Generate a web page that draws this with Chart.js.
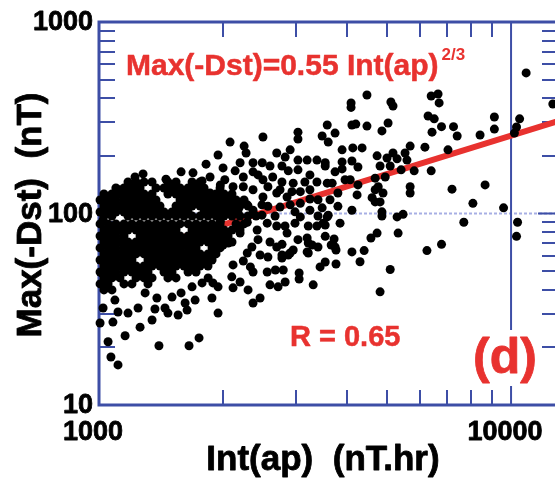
<!DOCTYPE html>
<html lang="en">

<head>
    <meta charset="UTF-8">
    <title>Max(-Dst) vs Int(ap)</title>
    <script src="https://cdn.jsdelivr.net/npm/chart.js"></script>
    <style>
        html, body { margin: 0; padding: 0; background: #fff; overflow: hidden; }
        canvas { display: block; }
    </style>
</head>

<body>
    <canvas id="storms" width="575" height="480"></canvas>

    <script>
        // scattered storms (nT.hr / nT)
        const intAp = [
            10880, 12630, 4470, 4090, 4090, 5110, 5170, 6400, 6650, 6690,
            6290, 6510, 9110, 9110, 10490, 10310, 10190, 8410, 7250, 7400,
            6780, 6430, 7030, 6400, 5820, 5690, 6180, 5690, 5690, 7190,
            8650, 8080, 9590, 7680, 10370, 10310, 6780, 6250, 5090, 4810,
            4110, 4400, 4300, 3760, 3310, 3060, 3060, 3400, 3220, 3220,
            3440, 3540, 2830, 2720, 2960, 2780, 2880, 3740, 3800, 4110,
            3600, 4680, 4810, 4860, 4860, 5290, 5470, 5320, 4730, 4570,
            3540, 3720, 3660, 3760, 4110, 4200, 5030, 4470, 4860, 3580,
            3740, 3600, 3890, 4130, 4350, 4730, 5170, 5000, 5290, 5530,
            5590, 3890, 4110, 4250, 3740, 3890, 4810, 5090, 5410, 3540,
            3680, 4070, 4250, 4680, 4950, 4760, 4680, 4890, 3800, 4230,
            4600, 2080, 2500, 1945, 2250, 2275, 2000, 2200, 2365, 2490,
            2365, 2020, 2140, 2240, 3040, 3040, 3480, 2700, 2910, 2830,
            3040, 3200, 3380, 3540, 2780, 2880, 3040, 3250, 2640, 2500,
            2570, 2780, 2960, 3380, 3580, 2365, 2500, 2700, 2860, 3080,
            3250, 3250, 1860, 1970, 2115, 2240, 1930, 2080, 2290, 2175,
            2365, 2570, 2750, 2910, 3080, 3250, 3480, 3580, 3080, 3220,
            3380, 3500, 2990, 2700, 2560, 2290, 1970, 1860, 1890, 2200,
            2420, 2860, 3200, 3540, 1945, 2365, 2460, 2300, 2115, 2100,
            2200, 2600, 2560, 2680, 2800, 2365, 2240, 2330, 1890, 1945,
            1880, 2000, 2115, 2460, 2570, 2780, 2910, 3200, 2700, 2290,
            2060, 2350, 1017, 1034, 1023, 1093, 1112, 1176, 1244, 1294,
            1382, 1367, 1446, 1470, 1556, 1618, 1636, 1711, 1504, 1582,
            1682, 1779, 1840, 1006, 1081, 1345, 1258, 1157, 1052, 1749,
            1654, 1398, 1069, 1112, 1093, 1118, 1202, 1223, 1279, 1345,
            1454, 1582, 1691, 1819, 1860, 1034, 1023, 1779,
            2432, 2600, 2750, 2940, 3160, 3400, 2486, 2675, 2828, 3040,
            3290, 2432, 2600, 2781, 2990, 3400, 3636, 3846, 3955, 2486
        ];
        const maxDst = [
            542, 373, 416, 378, 358, 382, 364, 411, 421, 378,
            323, 312, 319, 276, 312, 283, 263, 257, 284, 254,
            284, 266, 215, 167, 167, 225, 222, 138, 128, 134,
            141, 113, 107, 90, 90, 76, 69, 64, 51, 39,
            63, 64, 56, 54.5, 42.4, 48.9, 45.5, 66.8, 70.1, 62.2,
            52.6, 55.8, 43.9, 41.4, 64.5, 60.7, 60.7, 66.8, 109, 104,
            98, 115, 115, 102, 97, 96, 99, 79, 79, 74.5,
            87, 73.6, 68.5, 64.5, 290, 293, 297, 286, 270, 290,
            263, 236, 215, 220, 220, 200, 207, 195, 193, 207,
            190, 186, 188, 175, 165, 171, 177, 177, 169, 177,
            144, 150, 141, 153, 155, 138, 133, 128, 128, 125,
            121, 236, 251, 202, 225, 207, 173, 184, 184, 184,
            165, 150, 167, 155, 266, 245, 254, 207, 215, 197,
            190, 190, 190, 184, 177, 167, 169, 159, 155, 150,
            138, 146, 144, 146, 144, 133, 122, 128, 122, 130,
            133, 119, 128, 141, 138, 138, 115, 118, 111, 104,
            104, 109, 108, 111, 113, 104, 107, 96, 96, 86,
            86, 89, 89, 86, 89, 90, 91, 101, 79, 79,
            82, 79, 74.5, 76, 30.2, 34.1, 36.2, 39.9, 40.9, 46.7,
            43.9, 42.4, 49.5, 50.7, 50.7, 49.5, 56.5, 52.6, 43.4, 41.4,
            36.2, 68.5, 53.9, 60.7, 59.3, 58.6, 62.2, 63, 66.8, 62.2,
            70.1, 66.8, 48.9, 41.4, 32.1, 35.3, 30.6, 30.2, 32.1, 38.5,
            36.2, 31.7, 32.1, 30.2, 29.5, 34.1, 31.3, 35.3, 36.6, 38.5,
            41.4, 43.4, 46.1, 26.8, 27.1, 27.8, 25.5, 23.0, 21.4, 22.4,
            20.4, 20.4, 17.8, 16.2, 113, 133, 138, 155, 161, 146,
            151, 165, 163, 181, 155, 113, 92.5, 148,
            159, 177, 133, 130, 146, 118, 98, 97, 86, 73,
            68.5, 73, 71, 69, 102, 97, 118, 89, 150, 111
        ];

        // the packed cloud at low Int(ap): one Max(-Dst) level per row
        const denseDst = [146, 135.9, 126.5, 117.6, 109.4, 101.8, 97.1, 88.2, 82, 76.3,
            71, 66.1, 61.5, 57.2, 53.2, 49.5, 46.1, 42.9, 39.9];
        const denseAp = [
            [1176, 1230, 1286, 1470, 1538, 1682, 1759],
            [1099, 1150, 1202, 1258, 1375, 1438, 1504, 1573, 1645, 1720, 1799, 1967],
            [1028, 1075, 1124, 1176, 1230, 1286, 1345, 1470, 1538, 1608, 1682, 1759, 1839, 1923, 2011, 2103],
            [1006, 1052, 1099, 1150, 1202, 1258, 1315, 1375, 1573, 1645, 1720, 1799, 1881, 1967, 2057, 2151, 2249],
            [1028, 1075, 1124, 1176, 1230, 1286, 1345, 1406, 1538, 1608, 1682, 1759, 1839, 1923, 2011, 2103, 2199, 2300],
            [1006, 1052, 1099, 1150, 1202, 1258, 1315, 1375, 1438, 1504, 1573, 1645, 1799, 1881, 1967, 2057, 2151],
            [1028, 1075, 1176, 1230, 1286, 1345, 1406, 1470, 1538, 1608, 1682, 1759, 1839, 1923, 2011, 2103, 2199, 2300, 2405],
            [1006, 1052, 1099, 1150, 1202, 1258, 1315, 1375, 1438, 1504, 1573, 1645, 1720, 1799, 1881, 1967, 2151, 2249],
            [1028, 1075, 1124, 1176, 1230, 1286, 1345, 1406, 1470, 1538, 1682, 1759, 1839, 1923, 2011, 2103, 2199],
            [1006, 1052, 1099, 1150, 1258, 1315, 1375, 1438, 1504, 1573, 1645, 1720, 1799, 1881, 1967, 2057],
            [1028, 1075, 1124, 1176, 1230, 1286, 1345, 1406, 1470, 1538, 1608, 1682, 1759, 1839, 1923, 2011, 2103],
            [1006, 1052, 1099, 1150, 1202, 1258, 1315, 1375, 1438, 1504, 1573, 1645, 1720, 1881, 1967],
            [1028, 1075, 1124, 1176, 1230, 1286, 1345, 1406, 1470, 1538, 1608, 1682, 1759, 1839, 1923],
            [1006, 1052, 1099, 1150, 1202, 1315, 1375, 1438, 1504, 1573, 1645, 1720, 1799, 1881],
            [1028, 1075, 1124, 1176, 1230, 1286, 1345, 1406, 1470, 1538, 1608, 1682, 1759, 1839],
            [1006, 1052, 1099, 1150, 1202, 1258, 1315, 1438, 1504, 1645, 1720],
            [1028, 1075, 1124, 1230, 1286, 1345, 1470, 1538],
            [1006, 1052, 1150, 1202, 1315],
            [1028, 1075]
        ];

        // fitted line Max(-Dst) = 0.55 Int(ap)^(2/3), its two ends
        const fitAp = [1000, 13000];
        const fitDst = [55, 304];

        const xMinor = [2000, 3000, 4000, 5000, 6000, 7000, 8000, 9000];
        const yMinor = [20, 30, 40, 50, 60, 70, 80, 90, 200, 300, 400, 500, 600, 700, 800, 900];
        const xLabels = [1000, 10000];
        const yLabels = [10, 100, 1000];

        const BLUE = '#3d4ea6';
        const RED = '#e8322f';
        const FONT = '"Liberation Sans", Arial, sans-serif';

        const points = intAp.map((v, i) => ({ x: v, y: maxDst[i] }));
        denseDst.forEach((d, r) => denseAp[r].forEach(a => points.push({ x: a, y: d })));
        const fit = fitAp.map((v, i) => ({ x: v, y: fitDst[i] }));

        // bold text with a thin outline, the original lettering is heavy
        function heavyText(ctx, str, px, py, weight) {
            ctx.lineWidth = weight;
            ctx.strokeStyle = ctx.fillStyle;
            ctx.strokeText(str, px, py);
            ctx.fillText(str, px, py);
        }

        const decor = {
            id: 'decor',
            beforeDatasetsDraw(chart) {
                const { ctx, chartArea: a, scales: { x, y } } = chart;
                ctx.save();

                // dotted line at 100 nT
                const y100 = y.getPixelForValue(100);
                ctx.strokeStyle = 'rgba(95,110,205,0.55)';
                ctx.lineWidth = 2;
                ctx.setLineDash([3, 2]);
                ctx.beginPath();
                ctx.moveTo(a.left, y100);
                ctx.lineTo(a.right, y100);
                ctx.stroke();
                ctx.setLineDash([]);

                // vertical line at 10000
                const x10k = x.getPixelForValue(10000);
                ctx.strokeStyle = BLUE;
                ctx.lineWidth = 2;
                ctx.beginPath();
                ctx.moveTo(x10k, a.top);
                ctx.lineTo(x10k, a.bottom);
                ctx.stroke();

                // inward ticks
                ctx.beginPath();
                xMinor.forEach(v => {
                    const px = Math.round(x.getPixelForValue(v));
                    ctx.moveTo(px, a.top); ctx.lineTo(px, a.top + 15);
                    ctx.moveTo(px, a.bottom); ctx.lineTo(px, a.bottom - 15);
                });
                yMinor.forEach(v => {
                    const py = Math.round(y.getPixelForValue(v));
                    ctx.moveTo(a.left, py); ctx.lineTo(a.left + 16, py);
                    ctx.moveTo(a.right, py); ctx.lineTo(a.right - 16, py);
                });
                ctx.moveTo(a.left, y100); ctx.lineTo(a.left + 20, y100);
                ctx.moveTo(a.right, y100); ctx.lineTo(a.right - 20, y100);
                ctx.stroke();

                // frame
                ctx.lineWidth = 3;
                ctx.strokeRect(a.left, a.top, a.right - a.left, a.bottom - a.top);
                ctx.restore();
            },
            afterDatasetsDraw(chart) {
                const { ctx, chartArea: a, scales: { x, y } } = chart;
                ctx.save();
                ctx.fillStyle = '#000';
                ctx.lineJoin = 'round';

                // tick labels
                ctx.font = 'bold 27px ' + FONT;
                ctx.textAlign = 'right';
                ctx.textBaseline = 'middle';
                yLabels.forEach(v => heavyText(ctx, String(v), a.left - 6, y.getPixelForValue(v) + 1, 0.8));
                ctx.textAlign = 'center';
                xLabels.forEach(v => heavyText(ctx, String(v), x.getPixelForValue(v) - 6, 433, 0.8));

                // axis titles
                ctx.font = 'bold 35px ' + FONT;
                ctx.textBaseline = 'alphabetic';
                heavyText(ctx, 'Int(ap)  (nT.hr)', 323, 470, 0.8);
                ctx.save();
                ctx.translate(41, 215);
                ctx.rotate(-Math.PI / 2);
                heavyText(ctx, 'Max(-Dst)  (nT)', 0, 0, 0.8);
                ctx.restore();

                // annotations
                ctx.fillStyle = RED;
                ctx.textAlign = 'left';
                ctx.font = 'bold 30px ' + FONT;
                const eq = 'Max(-Dst)=0.55 Int(ap)';
                heavyText(ctx, eq, 126, 75, 0.5);
                const w = ctx.measureText(eq).width;
                ctx.font = 'bold 17px ' + FONT;
                ctx.fillText('2/3', 126 + w + 3, 60);

                ctx.font = 'bold 29px ' + FONT;
                heavyText(ctx, 'R = 0.65', 290, 346, 0.5);

                ctx.fillStyle = '#fff';
                ctx.fillRect(470, 330, 70, 56);
                ctx.fillStyle = RED;
                ctx.font = 'bold 50px ' + FONT;
                heavyText(ctx, '(d)', 473, 373, 0.8);
                ctx.restore();
            }
        };

        new Chart(document.getElementById('storms'), {
            type: 'scatter',
            data: {
                datasets: [{
                    data: points,
                    backgroundColor: '#000',
                    borderWidth: 0,
                    pointRadius: 4.5,
                    pointHoverRadius: 4.5,
                    clip: false,
                    order: 0
                }, {
                    data: fit,
                    showLine: true,
                    borderColor: RED,
                    borderWidth: 6,
                    pointRadius: 0,
                    order: 1
                }]
            },
            options: {
                responsive: false,
                animation: false,
                events: [],
                layout: { padding: { left: 99, top: 22, right: 17, bottom: 75 } },
                plugins: { legend: { display: false }, tooltip: { enabled: false } },
                scales: {
                    x: { type: 'logarithmic', min: 1000, max: 13000, display: false },
                    y: { type: 'logarithmic', min: 10, max: 1000, display: false }
                }
            },
            plugins: [decor]
        });
    </script>
</body>

</html>
